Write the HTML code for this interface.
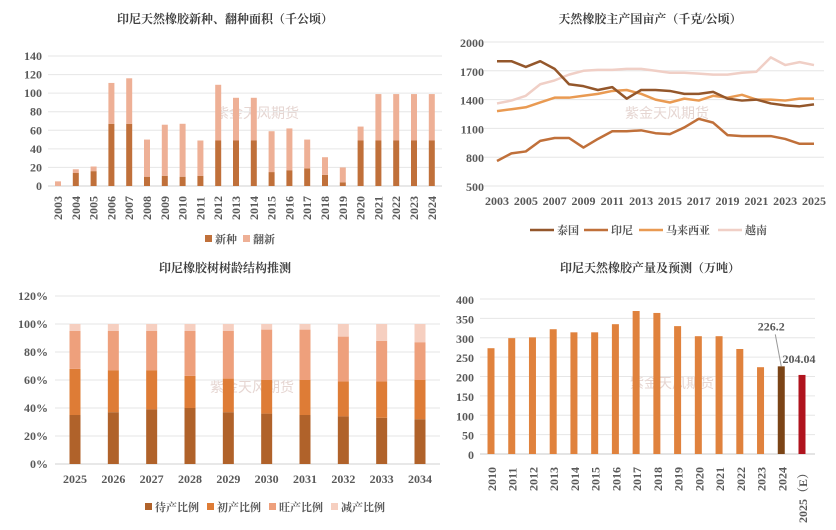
<!DOCTYPE html>
<html><head><meta charset="utf-8">
<style>
html,body{margin:0;padding:0;background:#fff;}
svg{display:block;font-family:"Liberation Serif","Noto Serif CJK SC",serif;}
.t{font-weight:bold;font-size:12px;fill:#404040;}
.tk{font-weight:bold;font-size:12px;fill:#595959;}
.lg{font-weight:bold;font-size:11px;fill:#595959;}
</style></head>
<body>
<svg id="c" width="836" height="530" viewBox="0 0 836 530">
<g fill="#e6d6d2" font-family="Liberation Sans,Noto Sans CJK SC,sans-serif" font-size="14">
<text x="215" y="118">紫金天风期货</text>
<text x="625" y="118">紫金天风期货</text>
<text x="210" y="392">紫金天风期货</text>
<text x="630" y="388">紫金天风期货</text>
</g>
</svg>
<script>
// ---- Panel 1 data
const p1Years=["2003","2004","2005","2006","2007","2008","2009","2010","2011","2012","2013","2014","2015","2016","2017","2018","2019","2020","2021","2022","2023","2024"];
const p1New=[0,14,16,67,67,10,11,10,11,49,49,49,15,17,19,12,4,49,49,49,49,49];
const p1Renew=[5,4,5,44,49,40,55,57,38,60,46,46,44,45,31,19,16,15,50,50,50,50];
const p1Ticks=[0,20,40,60,80,100,120,140];
// ---- Panel 2 data
const p2Years=["2003","2004","2005","2006","2007","2008","2009","2010","2011","2012","2013","2014","2015","2016","2017","2018","2019","2020","2021","2022","2023","2024","2025"];
const p2Thailand=[1800,1800,1740,1800,1720,1560,1540,1500,1530,1410,1500,1500,1490,1460,1460,1480,1410,1390,1400,1360,1340,1330,1350];
const p2Indonesia=[760,840,860,970,1000,1000,900,990,1070,1070,1080,1050,1040,1110,1200,1160,1030,1020,1020,1020,990,940,940];
const p2Malaysia=[1280,1300,1320,1370,1420,1420,1440,1460,1490,1500,1460,1400,1370,1410,1390,1440,1420,1450,1400,1400,1390,1410,1410];
const p2Vietnam=[1360,1390,1440,1560,1600,1660,1700,1710,1710,1720,1720,1700,1680,1680,1670,1660,1660,1680,1690,1840,1760,1790,1760];
const p2Ticks=[500,800,1100,1400,1700,2000];
// ---- Panel 3 data
const p3Years=["2025","2026","2027","2028","2029","2030","2031","2032","2033","2034"];
const p3Wait=[35,37,39,40,37,36,35,34,33,32];
const p3Early=[33,30,28,23,24,24,25,25,26,28];
const p3Peak=[27,28,28,32,34,36,36,32,29,27];
const p3Decline=[5,5,5,5,5,4,4,9,12,13];
const p3Ticks=[0,20,40,60,80,100,120];
// ---- Panel 4 data
const p4Years=["2010","2011","2012","2013","2014","2015","2016","2017","2018","2019","2020","2021","2022","2023","2024","2025（E）"];
const p4Values=[273,299,301,322,314,314,335,369,364,330,304,304,271,224,226.2,204.04];
const p4Ticks=[0,50,100,150,200,250,300,350,400];

const svg=document.getElementById('c');
const NS='http://www.w3.org/2000/svg';
function mk(tag,attrs,parent){const e=document.createElementNS(NS,tag);for(const k in attrs)e.setAttribute(k,attrs[k]);(parent||svg).appendChild(e);return e;}
function txt(s,attrs,parent){const e=mk('text',attrs,parent);e.textContent=s;return e;}
function lin(v0,v1,p0,p1){return v=>p0+(v-v0)/(v1-v0)*(p1-p0);}

// ===== Panel 1
{
const g=mk('g',{});


const t=txt('印尼天然橡胶新种、翻种面积（千公顷）',{x:225,y:23,'text-anchor':'middle',class:'t'},g);


const y=lin(0,140,186,56);
const x=i=>58+i*17.8;
p1Ticks.forEach(v=>{
  const l=mk('line',{x1:48,x2:442,y1:y(v),y2:y(v),stroke:v===0?'#d0d0d0':'#e6e6e6'},g);
  
  
  const tt=txt(String(v),{x:42,y:y(v)+4,'text-anchor':'end',class:'tk'},g);
  
  
});
p1Years.forEach((yr,i)=>{
  const b1=mk('rect',{x:x(i)-3,y:y(p1New[i]),width:6,height:y(0)-y(p1New[i]),fill:'#c0703a'},g);
  
  
  const top=p1New[i]+p1Renew[i];
  const b2=mk('rect',{x:x(i)-3,y:y(top),width:6,height:y(p1New[i])-y(top),fill:'#eeb096'},g);
  
  
  const lb=txt(yr,{transform:`translate(${x(i)+4},${220}) rotate(-90)`,class:'tk','font-size':'12'},g);
  
  
});
[['新种','#c0703a',205],['翻新','#eeb096',243]].forEach(([n,c,lx])=>{
  const r=mk('rect',{x:lx,y:235,width:7,height:7,fill:c},g);
  
  
  const lt=txt(n,{x:lx+10,y:243,class:'lg'},g);
  
  
});
}

// ===== Panel 2
{
const g=mk('g',{});


const t=txt('天然橡胶主产国亩产（千克/公顷）',{x:650,y:23,'text-anchor':'middle',class:'t'},g);


const y=lin(500,2000,186,42);
const x=i=>497+i*(317/22);
p2Ticks.forEach(v=>{
  const l=mk('line',{x1:483,x2:824,y1:y(v),y2:y(v),stroke:'#e6e6e6'},g);
  
  
  const tt=txt(String(v),{x:484,y:y(v)+5,'text-anchor':'end',class:'tk','font-size':'13'},g);
  
  
});
p2Years.forEach((yr,i)=>{ if(i%2===0){
  const lb=txt(yr,{x:x(i),y:205,'text-anchor':'middle',class:'tk','font-size':'13'},g);
  
  
}});
const series=[[p2Vietnam,'#f0cfc6','越南'],[p2Malaysia,'#e99a52','马来西亚'],[p2Indonesia,'#c0703a','印尼'],[p2Thailand,'#94572b','泰国']];
series.forEach(([d,c,n])=>{
  const p=mk('polyline',{points:d.map((v,i)=>x(i)+','+y(v)).join(' '),fill:'none',stroke:c,'stroke-width':2.5,'stroke-linejoin':'round'},g);
  
  
});
[['泰国','#94572b',530,557],['印尼','#c0703a',584,611],['马来西亚','#e99a52',639,666],['越南','#f0cfc6',718,745]].forEach(([n,c,lx,tx])=>{
  const l=mk('line',{x1:lx,x2:lx+24,y1:230,y2:230,stroke:c,'stroke-width':2.5},g);
  
  
  const lt=txt(n,{x:tx,y:234,class:'lg'},g);
  
  
});
}

// ===== Panel 3
{
const g=mk('g',{});


const t=txt('印尼橡胶树树龄结构推测',{x:225,y:272,'text-anchor':'middle',class:'t'},g);


const y=lin(0,120,464,296);
const x=i=>75+i*(345/9);
p3Ticks.forEach(v=>{
  const l=mk('line',{x1:55,x2:440,y1:y(v),y2:y(v),stroke:v===0?'#d0d0d0':'#e6e6e6'},g);
  
  
  const tt=txt(v+'%',{x:48,y:y(v)+4,'text-anchor':'end',class:'tk'},g);
  
  
});
const layers=[[p3Wait,'#b0622a','待产比例'],[p3Early,'#de7c36','初产比例'],[p3Peak,'#eea07c','旺产比例'],[p3Decline,'#f6cfc0','减产比例']];
p3Years.forEach((yr,i)=>{
  let acc=0;
  layers.forEach(([d,c,n])=>{
    const r=mk('rect',{x:x(i)-5.5,y:y(acc+d[i]),width:11,height:y(acc)-y(acc+d[i]),fill:c},g);
    
    
    acc+=d[i];
  });
  const lb=txt(yr,{x:x(i),y:483,'text-anchor':'middle',class:'tk','font-size':'13'},g);
  
  
});
layers.forEach(([d,c,n],k)=>{
  const lx=145+k*62;
  const r=mk('rect',{x:lx,y:503,width:7,height:7,fill:c},g);
  
  
  const lt=txt(n,{x:lx+10,y:511,class:'lg'},g);
  
  
});
}

// ===== Panel 4
{
const g=mk('g',{});


const t=txt('印尼天然橡胶产量及预测（万吨）',{x:650,y:272,'text-anchor':'middle',class:'t'},g);


const y=lin(0,400,454,299);
const x=i=>491+i*(311/15);
p4Ticks.forEach(v=>{
  const l=mk('line',{x1:480,x2:815,y1:y(v),y2:y(v),stroke:v===0?'#c8c8c8':'#e6e6e6'},g);
  
  
  const tt=txt(String(v),{x:474,y:y(v)+5,'text-anchor':'end',class:'tk','font-size':'13'},g);
  
  
});
p4Years.forEach((yr,i)=>{
  const c=i===p4Years.length-1?'#b0141e':(i===p4Years.length-2?'#7b4416':'#e0823d');
  const r=mk('rect',{x:x(i)-3.5,y:y(p4Values[i]),width:7,height:y(0)-y(p4Values[i]),fill:c},g);
  
  
  const lb=txt(yr,{transform:`translate(${x(i)+5},${i===p4Years.length-1?523:491}) rotate(-90)`,class:'tk','font-size':'12'},g);
  
  
});
const n=p4Values.length;
const a1=txt(String(p4Values[n-2]),{x:x(n-2)-10,y:y(p4Values[n-2])-36,'text-anchor':'middle',class:'tk','font-size':'15',fill:'#404040'},g);


const l1=mk('line',{x1:x(n-2)-6,y1:y(p4Values[n-2])-32,x2:x(n-2),y2:y(p4Values[n-2]),stroke:'#999'},g);


const a2=txt(String(p4Values[n-1]),{x:x(n-1)-3,y:y(p4Values[n-1])-12,'text-anchor':'middle',class:'tk','font-size':'15',fill:'#404040'},g);


}
</script>
</body></html>
